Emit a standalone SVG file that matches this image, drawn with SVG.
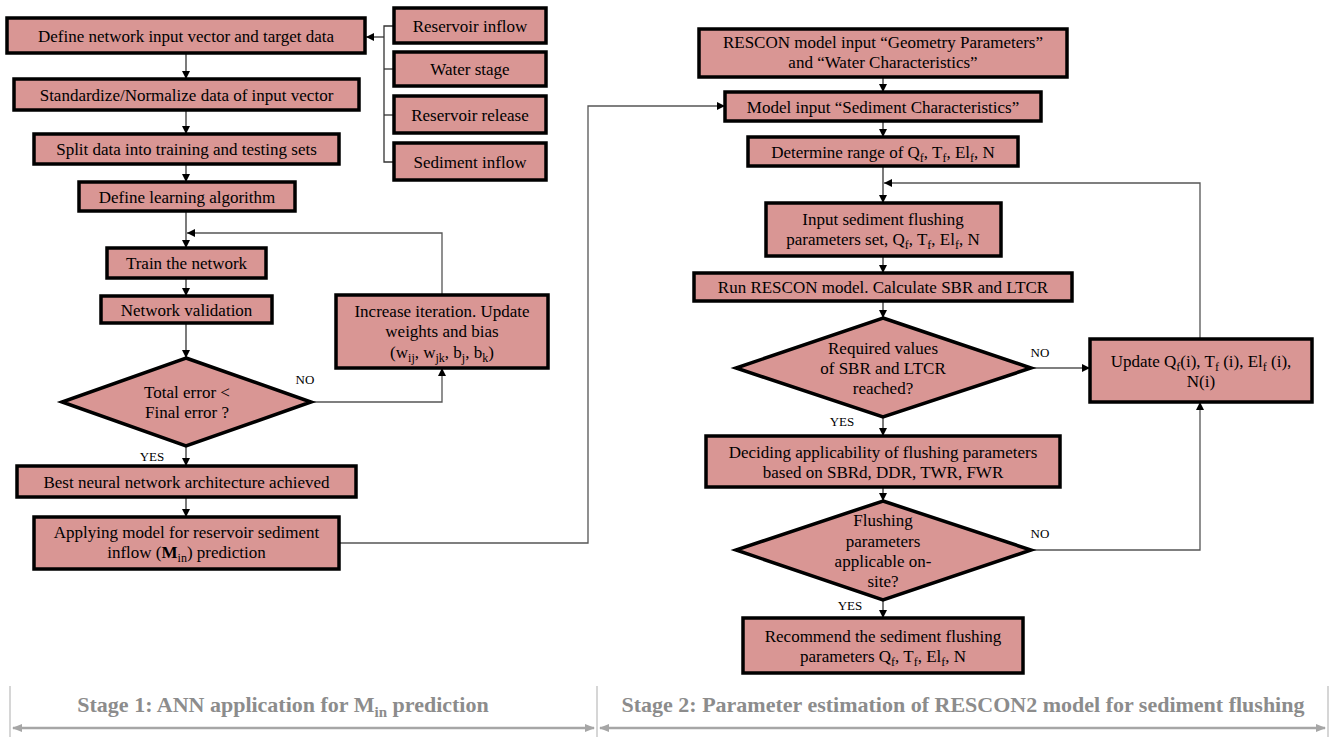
<svg xmlns="http://www.w3.org/2000/svg" width="1332" height="737" viewBox="0 0 1332 737">
<defs>
<style>
.box{fill:#D99694;stroke:#000;stroke-width:3.5}
.t{font-family:"Liberation Serif","Times New Roman",serif;font-size:17px;fill:#000;text-anchor:middle}
.lbl{font-family:"Liberation Serif","Times New Roman",serif;font-size:13px;fill:#000;text-anchor:middle}
.c{fill:none;stroke:#333;stroke-width:1.3}
.g{fill:none;stroke:#555;stroke-width:1.3}
.stage{font-family:"Liberation Serif","Times New Roman",serif;font-size:22px;font-weight:bold;fill:#8c8c8c;text-anchor:middle}
.sl{fill:none;stroke:#a6a6a6;stroke-width:2.5}
.tick{stroke:#c8c8c8;stroke-width:1.5}
</style>
<marker id="ah" viewBox="0 0 10 10" refX="10" refY="5" markerWidth="8" markerHeight="8" markerUnits="userSpaceOnUse" orient="auto">
<path d="M0,0 L10,5 L0,10 z" fill="#000"/>
</marker>
<marker id="gh" viewBox="0 0 10 10" refX="9" refY="5" markerWidth="10" markerHeight="10" markerUnits="userSpaceOnUse" orient="auto-start-reverse">
<path d="M0,1 L10,5 L0,9 z" fill="#a6a6a6"/>
</marker>
</defs>
<rect width="1332" height="737" fill="#fff"/>

<g id="connectors">
<line class="c" x1="186" y1="53" x2="186" y2="79" marker-end="url(#ah)"/>
<line class="c" x1="186" y1="110" x2="186" y2="134" marker-end="url(#ah)"/>
<line class="c" x1="186" y1="164" x2="186" y2="182" marker-end="url(#ah)"/>
<line class="c" x1="186" y1="211" x2="186" y2="248" marker-end="url(#ah)"/>
<line class="c" x1="186" y1="278" x2="186" y2="296" marker-end="url(#ah)"/>
<line class="c" x1="186" y1="323" x2="186" y2="358" marker-end="url(#ah)"/>
<line class="c" x1="186" y1="446" x2="186" y2="466" marker-end="url(#ah)"/>
<line class="c" x1="186" y1="497" x2="186" y2="517" marker-end="url(#ah)"/>
<polyline class="g" points="311,402 442,402 442,368" marker-end="url(#ah)"/>
<polyline class="g" points="442,295 442,233 187,233" marker-end="url(#ah)"/>
<polyline class="c" points="394,26 384,26 384,162 394,162"/>
<line class="c" x1="384" y1="69" x2="394" y2="69"/>
<line class="c" x1="384" y1="115" x2="394" y2="115"/>
<line class="c" x1="384" y1="37" x2="366" y2="37" marker-end="url(#ah)"/>
<polyline class="g" points="339,543 588,543 588,106 725,106" marker-end="url(#ah)"/>
<line class="c" x1="883" y1="77" x2="883" y2="92" marker-end="url(#ah)"/>
<line class="c" x1="883" y1="121" x2="883" y2="137" marker-end="url(#ah)"/>
<line class="c" x1="883" y1="166" x2="883" y2="203" marker-end="url(#ah)"/>
<line class="c" x1="883" y1="256" x2="883" y2="273" marker-end="url(#ah)"/>
<line class="c" x1="883" y1="301" x2="883" y2="318" marker-end="url(#ah)"/>
<line class="c" x1="883" y1="417" x2="883" y2="436" marker-end="url(#ah)"/>
<line class="c" x1="883" y1="487" x2="883" y2="501" marker-end="url(#ah)"/>
<line class="c" x1="883" y1="600" x2="883" y2="618" marker-end="url(#ah)"/>
<line class="g" x1="1031" y1="368" x2="1090" y2="368" marker-end="url(#ah)"/>
<polyline class="g" points="1031,550 1200,550 1200,402" marker-end="url(#ah)"/>
<polyline class="g" points="1200,339 1200,183 884,183" marker-end="url(#ah)"/>
</g>

<g id="labels">
<text class="lbl" x="305" y="384">NO</text>
<text class="lbl" x="152" y="461">YES</text>
<text class="lbl" x="1040" y="357">NO</text>
<text class="lbl" x="842" y="426">YES</text>
<text class="lbl" x="1040" y="538">NO</text>
<text class="lbl" x="850" y="610">YES</text>
</g>

<g id="n-define-input"><rect class="box" x="7" y="18" width="358" height="35"/><text class="t" x="186" y="41.5">Define network input vector and target data</text></g>
<g id="n-standardize"><rect class="box" x="14" y="79" width="345" height="31"/><text class="t" x="186.5" y="100.5">Standardize/Normalize data of input vector</text></g>
<g id="n-split"><rect class="box" x="34" y="134" width="305" height="30"/><text class="t" x="186.5" y="155">Split data into training and testing sets</text></g>
<g id="n-learning"><rect class="box" x="79" y="182" width="216" height="29"/><text class="t" x="187" y="202.5">Define learning algorithm</text></g>

<g id="n-res-inflow"><rect class="box" x="394" y="8" width="152" height="35"/><text class="t" x="470" y="31.5">Reservoir inflow</text></g>
<g id="n-water-stage"><rect class="box" x="394" y="52" width="152" height="34"/><text class="t" x="470" y="75">Water stage</text></g>
<g id="n-res-release"><rect class="box" x="394" y="96" width="152" height="37"/><text class="t" x="470" y="120.5">Reservoir release</text></g>
<g id="n-sed-inflow"><rect class="box" x="394" y="143" width="152" height="37"/><text class="t" x="470" y="167.5">Sediment inflow</text></g>

<g id="n-train"><rect class="box" x="107" y="248" width="159" height="30"/><text class="t" x="186.5" y="269">Train the network</text></g>
<g id="n-validation"><rect class="box" x="101" y="296" width="171" height="27"/><text class="t" x="186.5" y="315.5">Network validation</text></g>
<g id="n-increase"><rect class="box" x="336" y="295" width="212" height="73"/>
<text class="t" x="442" y="317">Increase iteration. Update</text>
<text class="t" x="442" y="337">weights and bias</text>
<text class="t" x="442" y="358">(w<tspan font-size="12" dy="4">ij</tspan><tspan dy="-4">, w</tspan><tspan font-size="12" dy="4">jk</tspan><tspan dy="-4">, b</tspan><tspan font-size="12" dy="4">j</tspan><tspan dy="-4">, b</tspan><tspan font-size="12" dy="4">k</tspan><tspan dy="-4">)</tspan></text></g>
<g id="n-error-check"><polygon class="box" points="186,358 311,402 186,446 62,402"/>
<text class="t" x="187" y="398">Total error &lt;</text>
<text class="t" x="187" y="418">Final error ?</text></g>
<g id="n-best"><rect class="box" x="17" y="466" width="339" height="31"/><text class="t" x="186.5" y="487.5">Best neural network architecture achieved</text></g>
<g id="n-applying"><rect class="box" x="34" y="517" width="305" height="52"/>
<text class="t" x="186.5" y="538">Applying model for reservoir sediment</text>
<text class="t" x="186.5" y="558">inflow (<tspan font-weight="bold">M</tspan><tspan font-size="12" dy="4">in</tspan><tspan dy="-4">) prediction</tspan></text></g>

<g id="n-rescon-input"><rect class="box" x="699" y="29" width="368" height="48"/>
<text class="t" x="883" y="48">RESCON model input “Geometry Parameters”</text>
<text class="t" x="883" y="68">and “Water Characteristics”</text></g>
<g id="n-sediment-char"><rect class="box" x="725" y="92" width="316" height="29"/><text class="t" x="883" y="112.5">Model input “Sediment Characteristics”</text></g>
<g id="n-range"><rect class="box" x="748" y="137" width="270" height="29"/><text class="t" x="883" y="157.5">Determine range of Q<tspan font-size="12" dy="4">f</tspan><tspan dy="-4">, T</tspan><tspan font-size="12" dy="4">f</tspan><tspan dy="-4">, El</tspan><tspan font-size="12" dy="4">f</tspan><tspan dy="-4">, N</tspan></text></g>
<g id="n-input-flushing"><rect class="box" x="766" y="203" width="235" height="53"/>
<text class="t" x="883" y="225">Input sediment flushing</text>
<text class="t" x="883" y="245">parameters set, Q<tspan font-size="12" dy="4">f</tspan><tspan dy="-4">, T</tspan><tspan font-size="12" dy="4">f</tspan><tspan dy="-4">, El</tspan><tspan font-size="12" dy="4">f</tspan><tspan dy="-4">, N</tspan></text></g>
<g id="n-run"><rect class="box" x="694" y="273" width="378" height="28"/><text class="t" x="883" y="293">Run RESCON model. Calculate SBR and LTCR</text></g>
<g id="n-required"><polygon class="box" points="883,318 1031,368 883,417 736,368"/>
<text class="t" x="883" y="354">Required values</text>
<text class="t" x="883" y="374">of SBR and LTCR</text>
<text class="t" x="883" y="394">reached?</text></g>
<g id="n-update"><rect class="box" x="1090" y="339" width="222" height="63"/>
<text class="t" x="1201" y="367">Update Q<tspan font-size="12" dy="4">f</tspan><tspan dy="-4">(i), T</tspan><tspan font-size="12" dy="4">f</tspan><tspan dy="-4"> (i), El</tspan><tspan font-size="12" dy="4">f</tspan><tspan dy="-4"> (i),</tspan></text>
<text class="t" x="1201" y="387">N(i)</text></g>
<g id="n-deciding"><rect class="box" x="706" y="436" width="354" height="51"/>
<text class="t" x="883" y="458">Deciding applicability of flushing parameters</text>
<text class="t" x="883" y="478">based on SBRd, DDR, TWR, FWR</text></g>
<g id="n-applicable"><polygon class="box" points="883,501 1031,550 883,600 736,550"/>
<text class="t" x="883" y="526">Flushing</text>
<text class="t" x="883" y="547">parameters</text>
<text class="t" x="883" y="567">applicable on-</text>
<text class="t" x="883" y="587">site?</text></g>
<g id="n-recommend"><rect class="box" x="743" y="618" width="280" height="55"/>
<text class="t" x="883" y="642">Recommend the sediment flushing</text>
<text class="t" x="883" y="662">parameters Q<tspan font-size="12" dy="4">f</tspan><tspan dy="-4">, T</tspan><tspan font-size="12" dy="4">f</tspan><tspan dy="-4">, El</tspan><tspan font-size="12" dy="4">f</tspan><tspan dy="-4">, N</tspan></text></g>

<g id="stages">
<line class="tick" x1="10" y1="686" x2="10" y2="737"/>
<line class="tick" x1="597" y1="686" x2="597" y2="737"/>
<line class="tick" x1="1328" y1="686" x2="1328" y2="737"/>
<line class="sl" x1="13" y1="728" x2="594" y2="728" marker-start="url(#gh)" marker-end="url(#gh)"/>
<line class="sl" x1="600" y1="728" x2="1325" y2="728" marker-start="url(#gh)" marker-end="url(#gh)"/>
<text class="stage" x="283" y="712">Stage 1: ANN application for M<tspan font-size="15" dy="5">in</tspan><tspan dy="-5"> prediction</tspan></text>
<text class="stage" x="963" y="712">Stage 2: Parameter estimation of RESCON2 model for sediment flushing</text>
</g>
</svg>
